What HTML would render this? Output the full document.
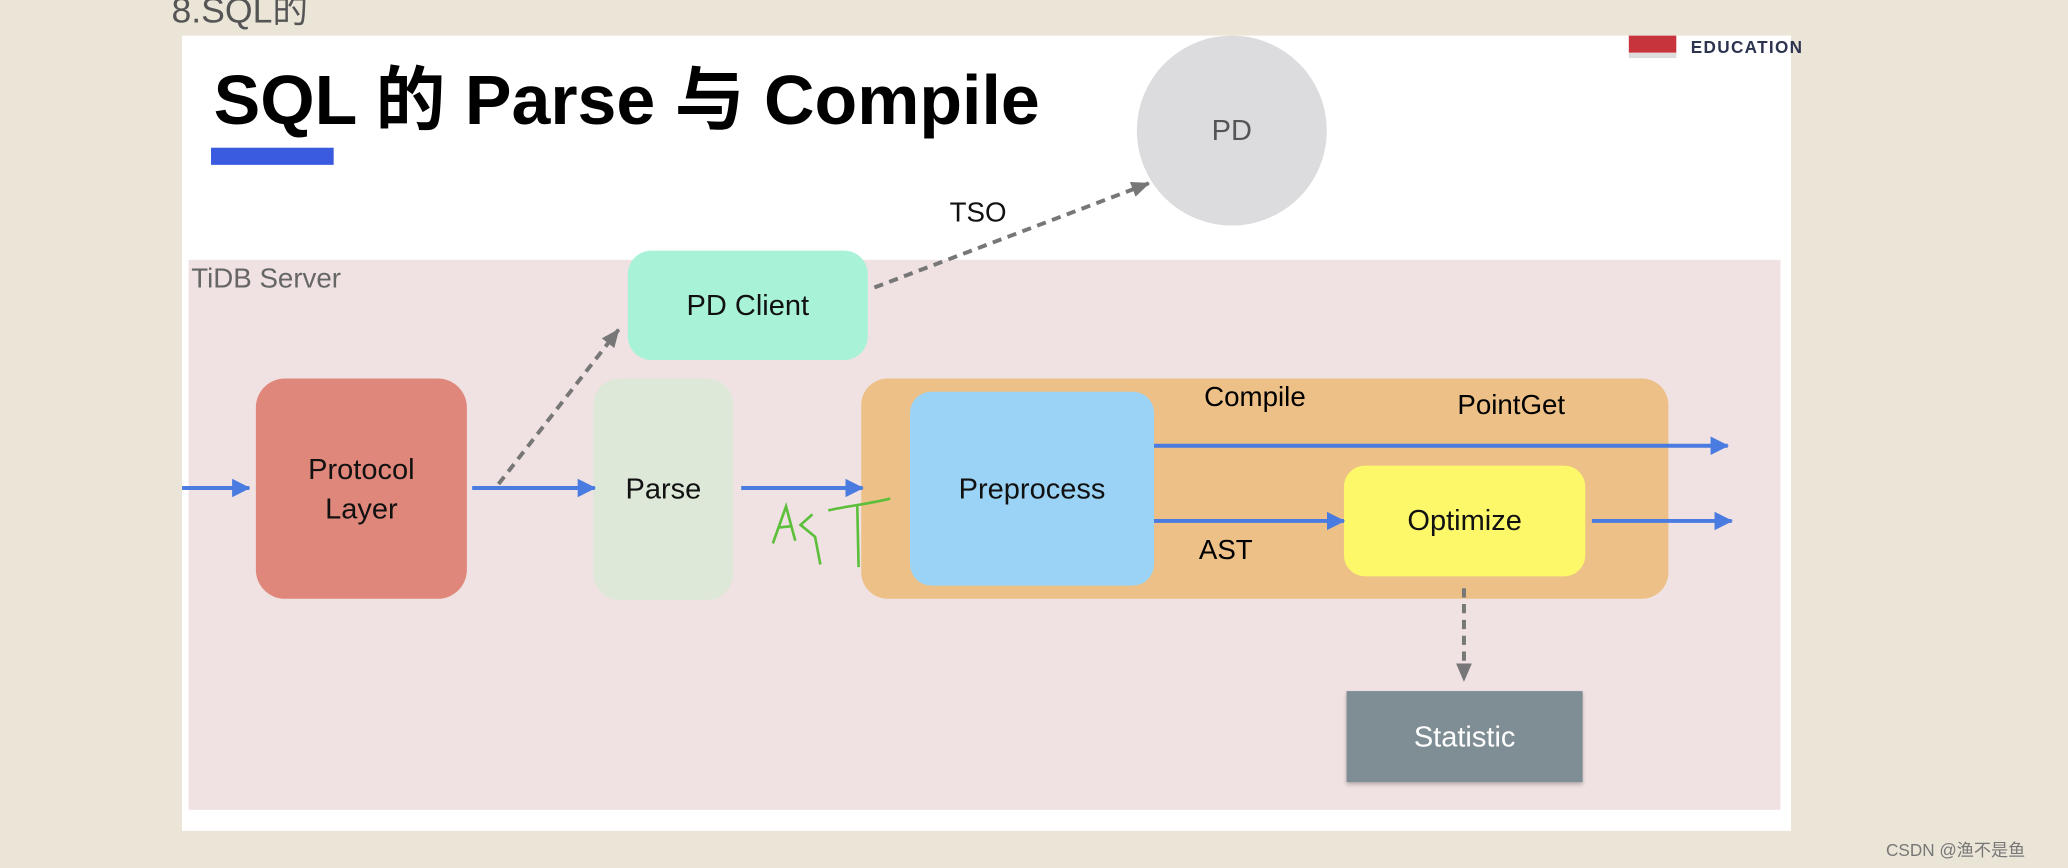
<!DOCTYPE html>
<html><head><meta charset="utf-8">
<style>
html,body{margin:0;padding:0;width:2068px;height:868px;overflow:hidden;background:#ebe5d8;}
#s{position:absolute;left:0;top:0;width:1568px;height:658px;transform:scale(1.31888);transform-origin:0 0;font-family:"Liberation Sans","Noto Sans CJK SC",sans-serif;}
.a{position:absolute;box-sizing:border-box;}
.c{display:flex;align-items:center;justify-content:center;text-align:center;font-size:22px;color:#111;}
</style></head><body>
<div id="s">
<div class="a" style="left:130px;top:-14px;font-size:27px;color:#555;">8.SQL的</div>
<div class="a" style="left:138px;top:27px;width:1220px;height:603px;background:#fff;"></div>
<div class="a" style="left:162px;top:34px;font-size:53px;font-weight:bold;color:#000;white-space:nowrap;">SQL 的 Parse 与 Compile</div>
<div class="a" style="left:160px;top:112px;width:93px;height:13px;background:#3a5be0;"></div>
<div class="a" style="left:1235px;top:27px;width:36px;height:13px;background:#c8343c;"></div>
<div class="a" style="left:1235px;top:40px;width:36px;height:4px;background:#ddd;"></div>
<div class="a" style="left:1282px;top:28px;font-size:13px;font-weight:bold;color:#2d3450;letter-spacing:1px;">EDUCATION</div>
<div class="a c" style="left:862px;top:27px;width:144px;height:144px;border-radius:50%;background:#dcdcde;color:#555;">PD</div>
<div class="a" style="left:143px;top:197px;width:1207px;height:417px;background:#f0e2e2;"></div>
<div class="a" style="left:145px;top:200px;font-size:21px;color:#666;">TiDB Server</div>
<div class="a" style="left:720px;top:150px;font-size:21px;color:#111;">TSO</div>
<div class="a c" style="left:476px;top:190px;width:182px;height:83px;border-radius:18px;background:#a8f2d8;">PD Client</div>
<div class="a c" style="left:194px;top:287px;width:160px;height:167px;border-radius:22px;background:#e0877b;line-height:30px;">Protocol<br>Layer</div>
<div class="a c" style="left:450px;top:287px;width:106px;height:168px;border-radius:20px;background:#dde8d8;">Parse</div>
<div class="a" style="left:653px;top:287px;width:612px;height:167px;border-radius:20px;background:#ecc087;"></div>
<div class="a c" style="left:690px;top:297px;width:185px;height:147px;border-radius:16px;background:#9ad3f5;">Preprocess</div>
<div class="a c" style="left:1019px;top:353px;width:183px;height:84px;border-radius:16px;background:#fdf76a;">Optimize</div>
<div class="a c" style="left:1021px;top:524px;width:179px;height:69px;background:#7f8d95;color:#fff;box-shadow:0 2px 3px rgba(0,0,0,.25);">Statistic</div>
<div class="a" style="left:913px;top:290px;font-size:21px;">Compile</div>
<div class="a" style="left:1105px;top:296px;font-size:21px;">PointGet</div>
<div class="a" style="left:909px;top:406px;font-size:21px;">AST</div>
<svg class="a" style="left:0;top:0" width="1568" height="658">
<defs>
<marker id="b" markerWidth="14" markerHeight="14" refX="13" refY="7" orient="auto" markerUnits="userSpaceOnUse" viewBox="0 0 14 14"><path d="M0,0L14,7L0,14z" fill="#4a7be0"/></marker>
<marker id="g" markerWidth="14" markerHeight="14" refX="13" refY="7" orient="auto" markerUnits="userSpaceOnUse" viewBox="0 0 14 14"><path d="M0,1L14,7L0,13z" fill="#777"/></marker>
</defs>
<g stroke="#4a7be0" stroke-width="3" fill="none">
<path d="M138 370H189" marker-end="url(#b)"/>
<path d="M358 370H451" marker-end="url(#b)"/>
<path d="M562 370H654" marker-end="url(#b)"/>
<path d="M875 338H1310" marker-end="url(#b)"/>
<path d="M875 395H1019" marker-end="url(#b)"/>
<path d="M1207 395H1313" marker-end="url(#b)"/>
</g>
<g stroke="#777" stroke-width="3" fill="none" stroke-dasharray="7 5">
<path d="M378 367L469 250" marker-end="url(#g)"/>
<path d="M663 218L871 139" marker-end="url(#g)"/>
<path d="M1110 446V516" marker-end="url(#g)"/>
</g>
<g stroke="#5cbf3a" stroke-width="2" fill="none">
<path d="M586 412L596 384L603 410M590 400L600 399"/>
<path d="M616 390L607 398L618 407L622 428"/>
<path d="M628 387C640 384 660 382 675 378M650 384L651 430"/>
</g>
</svg>
<div class="a" style="left:1430px;top:634px;font-size:13px;color:#777;">CSDN @渔不是鱼</div>
</div>
</body></html>
